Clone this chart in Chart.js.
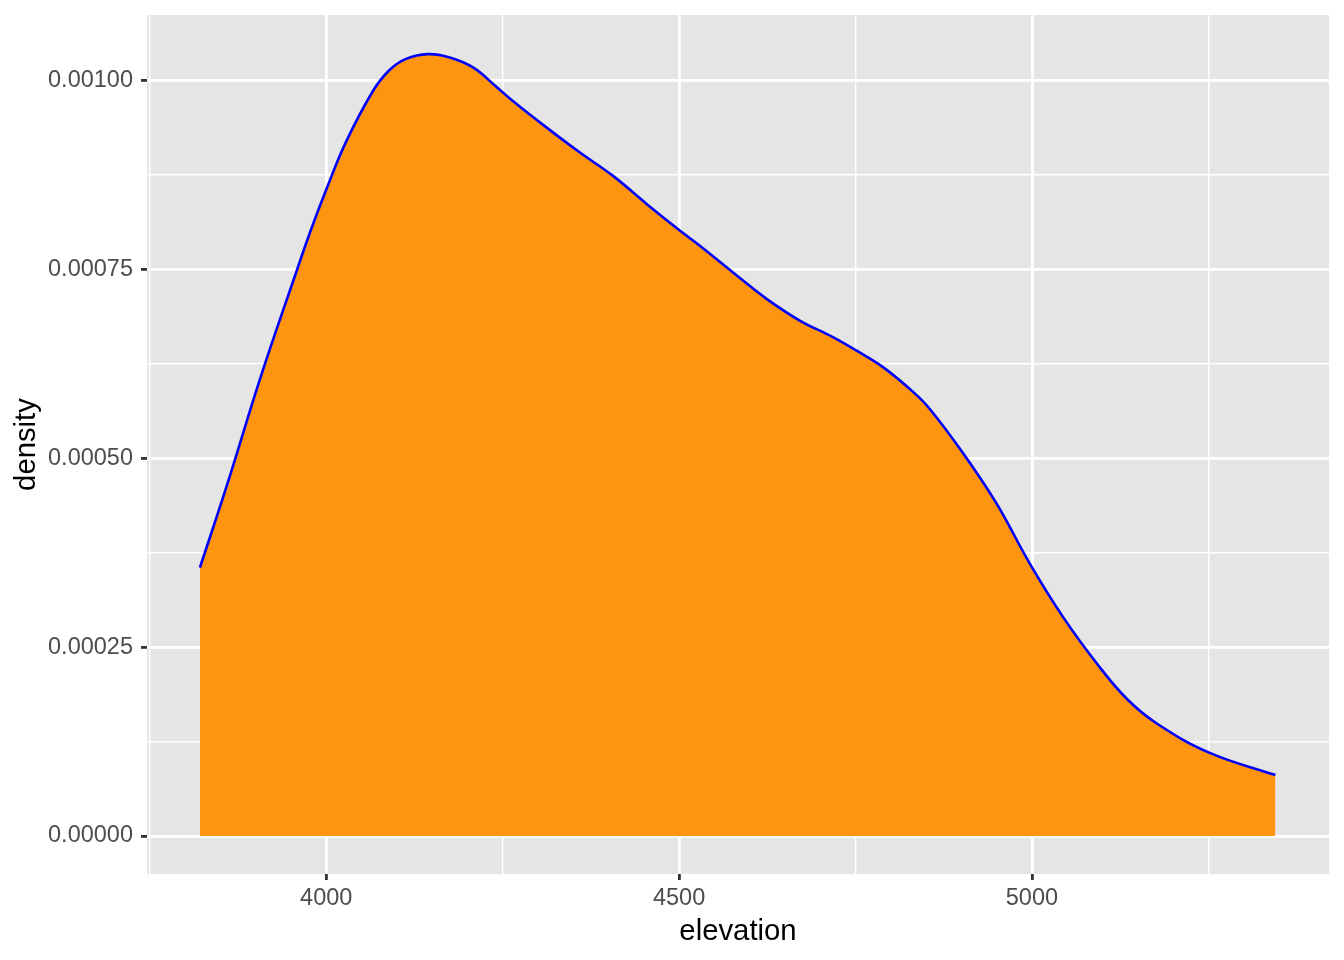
<!DOCTYPE html>
<html>
<head>
<meta charset="utf-8">
<script src="https://cdn.jsdelivr.net/npm/chart.js@4.4.1/dist/chart.umd.min.js"></script>
<style>
  html, body { margin: 0; padding: 0; background: #ffffff; }
  #wrap { width: 1344px; height: 960px; }
</style>
</head>
<body>
<div id="wrap"><canvas id="c" width="1344" height="960"></canvas></div>
<script>
// elevation values (x) and kernel density estimates (y)
const elevation = [3821, 3860, 3907, 3955, 3978, 4002, 4028, 4066, 4089, 4113, 4144, 4175, 4208, 4241, 4264, 4312, 4359, 4406, 4454, 4501, 4529, 4576, 4624, 4671, 4718, 4751, 4789, 4832, 4855, 4903, 4950, 4997, 5044, 5092, 5134, 5177, 5252, 5345];
const density   = [0.0003554, 0.0004665, 0.0006075, 0.0007398, 0.0008016, 0.0008605, 0.0009190, 0.0009860, 0.0010135, 0.0010289, 0.0010352, 0.0010308, 0.0010176, 0.000992, 0.0009735, 0.0009382, 0.0009052, 0.0008743, 0.0008369, 0.0008016, 0.0007817, 0.0007464, 0.0007112, 0.0006825, 0.0006605, 0.0006429, 0.0006208, 0.0005877, 0.0005657, 0.0005062, 0.0004401, 0.0003607, 0.0002901, 0.0002284, 0.0001821, 0.000149, 0.000110, 0.0000807];

const xMajorTicks = [4000, 4500, 5000];
const xMinorTicks = [3750, 4250, 4750, 5250];
const yMajorTicks = [0, 0.00025, 0.0005, 0.00075, 0.001];
const yMinorTicks = [0.000125, 0.000375, 0.000625, 0.000875];

const points = elevation.map((x, i) => ({ x: x, y: density[i] }));

const panelBg = {
  id: 'panelBg',
  beforeDraw(chart) {
    const { ctx, chartArea: a } = chart;
    ctx.save();
    ctx.fillStyle = '#E5E5E5';
    ctx.fillRect(a.left, a.top, a.right - a.left, a.bottom - a.top);
    ctx.restore();
  }
};

function isMajor(list, v) {
  return list.some(m => Math.abs(m - v) < 1e-12);
}
function noPad(scale) {
  scale.paddingTop = 0; scale.paddingBottom = 0;
  scale.paddingLeft = 0; scale.paddingRight = 0;
}

new Chart(document.getElementById('c'), {
  type: 'line',
  data: {
    datasets: [{
      data: points,
      borderColor: '#0000FF',
      borderWidth: 2.6,
      backgroundColor: '#FF950E',
      fill: 'origin',
      pointRadius: 0,
      tension: 0.4
    }]
  },
  options: {
    responsive: false,
    devicePixelRatio: 1,
    animation: false,
    layout: { padding: { top: 15, right: 15, left: 0, bottom: 0 } },
    plugins: { legend: { display: false }, tooltip: { enabled: false } },
    scales: {
      x: {
        type: 'linear',
        min: 3746,
        max: 5421,
        offset: false,
        afterBuildTicks(scale) {
          scale.ticks = xMinorTicks.concat(xMajorTicks).sort((a, b) => a - b).map(v => ({ value: v }));
        },
        afterFit(scale) { scale.height = 86; noPad(scale); },
        border: { display: false },
        grid: {
          color: '#FFFFFF',
          lineWidth: ctx => (ctx.tick && isMajor(xMajorTicks, ctx.tick.value)) ? 2.8 : 1.4,
          tickColor: ctx => (ctx.tick && isMajor(xMajorTicks, ctx.tick.value)) ? '#333333' : 'rgba(0,0,0,0)',
          tickWidth: 2.8,
          tickLength: 6,
          drawTicks: true
        },
        ticks: {
          autoSkip: false,
          maxRotation: 0,
          minRotation: 0,
          padding: 4,
          color: '#4D4D4D',
          font: { family: '"Liberation Sans", Arial, sans-serif', size: 23.5 },
          callback: v => isMajor(xMajorTicks, v) ? String(v) : ''
        },
        title: {
          display: true,
          text: 'elevation',
          color: '#000000',
          padding: { top: 0, bottom: 11 },
          font: { family: '"Liberation Sans", Arial, sans-serif', size: 29.3 }
        }
      },
      y: {
        type: 'linear',
        min: -0.0000503,
        max: 0.001087,
        afterBuildTicks(scale) {
          scale.ticks = yMinorTicks.concat(yMajorTicks).sort((a, b) => a - b).map(v => ({ value: v }));
        },
        afterFit(scale) { scale.width = 147; noPad(scale); },
        border: { display: false },
        grid: {
          color: '#FFFFFF',
          lineWidth: ctx => (ctx.tick && isMajor(yMajorTicks, ctx.tick.value)) ? 2.8 : 1.4,
          tickColor: ctx => (ctx.tick && isMajor(yMajorTicks, ctx.tick.value)) ? '#333333' : 'rgba(0,0,0,0)',
          tickWidth: 2.8,
          tickLength: 6,
          drawTicks: true
        },
        ticks: {
          autoSkip: false,
          padding: 8,
          color: '#4D4D4D',
          font: { family: '"Liberation Sans", Arial, sans-serif', size: 23.5 },
          callback: v => isMajor(yMajorTicks, v) ? v.toFixed(5) : ''
        },
        title: {
          display: true,
          text: 'density',
          color: '#000000',
          padding: { top: 9, bottom: 0 },
          font: { family: '"Liberation Sans", Arial, sans-serif', size: 29.3 }
        }
      }
    }
  },
  plugins: [panelBg]
});
</script>
</body>
</html>
